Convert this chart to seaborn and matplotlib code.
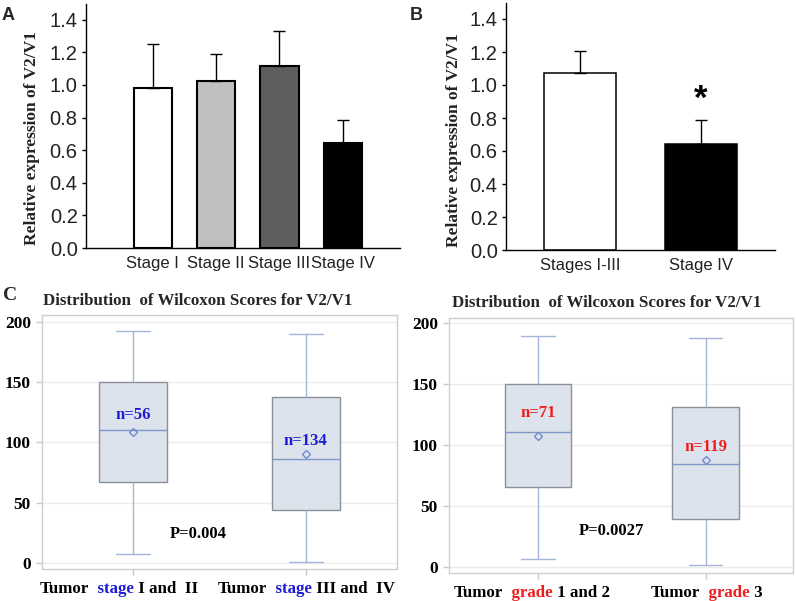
import numpy as np
import pandas as pd
import matplotlib
matplotlib.use("Agg")
import matplotlib.pyplot as plt
import seaborn as sns

# Panel A: relative expression of V2/V1 by tumour stage (mean + upper error)
stage_labels = ["Stage I", "Stage II", "Stage III", "Stage IV"]
stage_means = [0.98, 1.025, 1.115, 0.645]
stage_err = [0.27, 0.165, 0.215, 0.14]
stage_colors = ["white", "#c0c0c0", "#5e5e5e", "black"]

# Panel B: stages I-III pooled vs stage IV
group_labels = ["Stages I-III", "Stage IV"]
group_means = [1.07, 0.64]
group_err = [0.135, 0.145]
group_colors = ["white", "black"]

# Panel C (left): Wilcoxon scores by stage, five-number summaries + mean
stage_groups = ["I and II", "III and IV"]
stage_min = [8, 1]
stage_q1 = [67.5, 44]
stage_med = [110, 86]
stage_q3 = [150, 138]
stage_max = [192, 190]
stage_mean = [108.5, 90.5]
stage_n = ["n=56", "n=134"]
stage_n_y = [123, 101]

# Panel C (right): Wilcoxon scores by grade
grade_groups = ["1 and 2", "3"]
grade_min = [6, 1]
grade_q1 = [65.5, 39]
grade_med = [111, 84]
grade_q3 = [150.5, 131.5]
grade_max = [190, 188]
grade_mean = [107.5, 87.5]
grade_n = ["n=71", "n=119"]
grade_n_y = [126.5, 98.5]

SERIF = "Liberation Serif"
SANS = "Liberation Sans"
BLUE_TXT = "#1c1cd8"
RED_TXT = "#ee1c1c"

sns.set_style("ticks")
plt.rcParams["font.family"] = [SANS, "DejaVu Sans"]

W, H = 796, 601
fig = plt.figure(figsize=(W / 100, H / 100), dpi=100)


def px_axes(left, top, right, bottom):
    return fig.add_axes([left / W, 1 - bottom / H, (right - left) / W, (bottom - top) / H])


def bar_panel(ax, labels, means, err, colors, lw, xlim, ylab_xy):
    sns.barplot(x=labels, y=means, hue=labels, palette=colors, legend=False,
                edgecolor="black", linewidth=lw, width=0.6, errorbar=None, ax=ax)
    n = len(means)
    ax.errorbar(np.arange(n), means, yerr=[np.zeros(n), err], fmt="none",
                ecolor="black", elinewidth=1, capsize=4, capthick=1)
    ax.set_xlim(*xlim)
    ax.set_ylim(0, 1.5)
    ax.set_yticks(np.arange(0, 1.41, 0.2))
    ax.set_yticklabels([f"{v:.1f}" for v in np.arange(0, 1.41, 0.2)],
                       fontsize=14.5, color="#222222")
    ax.tick_params(axis="y", length=3, width=1, pad=3, color="black")
    ax.tick_params(axis="x", length=0, pad=6, labelsize=12, labelcolor="#222222")
    for s in ["top", "right"]:
        ax.spines[s].set_visible(False)
    for s in ["left", "bottom"]:
        ax.spines[s].set_color("black")
        ax.spines[s].set_linewidth(1)
    ax.set_ylabel("Relative expression of V2/V1", family=SERIF, fontweight="bold",
                  fontsize=12.5, color="#222222")
    ax.yaxis.set_label_coords(*ylab_xy)
    ax.set_xlabel("")


def five_num_frame(groups, mins, q1s, meds, q3s, maxs):
    rows = []
    for g, a, b, c, d, e in zip(groups, mins, q1s, meds, q3s, maxs):
        for v in (a, b, c, d, e):
            rows.append((g, v))
    return pd.DataFrame(rows, columns=["group", "score"])


def box_panel(ax, df, means, n_txt, n_y, n_color, p_txt, p_xy, xlim, ylim):
    ax.grid(axis="y", color="#ececec", linewidth=1)
    ax.set_axisbelow(True)
    sns.boxplot(data=df, x="group", y="score", whis=(0, 100), width=0.395,
                color="#dbe2ee", linecolor="#8c9199", linewidth=1, fliersize=0,
                whiskerprops=dict(color="#a3b5d8"), capprops=dict(color="#a3b5d8"),
                medianprops=dict(color="#7f98c9"), ax=ax)
    ax.plot(np.arange(len(means)), means, ls="none", marker="D", ms=4.5,
            mfc="none", mec="#6d8ccc", mew=1, zorder=5)
    for i, (t, y) in enumerate(zip(n_txt, n_y)):
        ax.text(i, y, t, ha="center", va="center", family=SERIF,
                fontweight="bold", fontsize=12, color=n_color)
    ax.text(p_xy[0], p_xy[1], p_txt, ha="center", va="center", family=SERIF,
            fontweight="bold", fontsize=12, color="black")
    ax.set_xlim(*xlim)
    ax.set_ylim(*ylim)
    ax.set_yticks([0, 50, 100, 150, 200])
    ax.set_yticklabels(["0", "50", "100", "150", "200"], family=SERIF,
                       fontweight="bold", fontsize=12.5, color="black")
    ax.set_xticklabels([])
    ax.tick_params(axis="both", length=4, width=1, color="#c8c8c8", pad=4)
    for s in ax.spines.values():
        s.set_visible(True)
        s.set_color("#cfcfcf")
        s.set_linewidth(1)
    ax.set_xlabel("")
    ax.set_ylabel("")


def color_label(cx, base_y, parts, size=12.2):
    r = fig.canvas.get_renderer()
    texts = [fig.text(0, 1 - base_y / H, s, color=c, fontsize=size, family=SERIF,
                      fontweight="bold", ha="left", va="baseline") for s, c in parts]
    widths = [t.get_window_extent(r).width for t in texts]
    x = cx - sum(widths) / 2
    for t, w in zip(texts, widths):
        t.set_x(x / W)
        x += w


# Panel A
axA = px_axes(86, 3.5, 400, 248)
bar_panel(axA, stage_labels, stage_means, stage_err, stage_colors, 1.5,
          (-1.05, 3.9), (-0.146, 0.45))

# Panel B
axB = px_axes(506, 2.5, 775, 250)
bar_panel(axB, group_labels, group_means, group_err, group_colors, 1.1,
          (-0.61, 1.61), (-0.164, 0.445))
axB.text(1, 0.91, "*", ha="center", va="center", fontsize=25, fontweight="bold",
         color="black")

# Panel C
axC1 = px_axes(42, 315, 397, 569)
box_panel(axC1, five_num_frame(stage_groups, stage_min, stage_q1, stage_med, stage_q3, stage_max),
          stage_mean, stage_n, stage_n_y, BLUE_TXT, "P=0.004", (0.374, 24.3),
          (-0.53, 1.53), (-4.7, 205.5))

axC2 = px_axes(449, 318, 793, 573)
box_panel(axC2, five_num_frame(grade_groups, grade_min, grade_q1, grade_med, grade_q3, grade_max),
          grade_mean, grade_n, grade_n_y, RED_TXT, "P=0.0027", (0.44, 29.6),
          (-0.531, 1.522), (-5.2, 204.4))

# panel letters and titles
fig.text(2 / W, 1 - 20 / H, "A", fontsize=13, fontweight="bold", family=SANS)
fig.text(410 / W, 1 - 20 / H, "B", fontsize=13, fontweight="bold", family=SANS)
fig.text(3 / W, 1 - 300 / H, "C", fontsize=14, fontweight="bold", family=SERIF,
         va="baseline")
fig.text(198 / W, 1 - 305 / H, "Distribution  of Wilcoxon Scores for V2/V1",
         ha="center", va="baseline", fontsize=12.2, fontweight="bold", family=SERIF)
fig.text(607 / W, 1 - 307 / H, "Distribution  of Wilcoxon Scores for V2/V1",
         ha="center", va="baseline", fontsize=12.2, fontweight="bold", family=SERIF)

# two-colour category labels under the box plots
color_label(119, 593, [("Tumor", "black"), ("  stage", BLUE_TXT), (" I and  II", "black")])
color_label(306.5, 593, [("Tumor", "black"), ("  stage", BLUE_TXT), (" III and  IV", "black")])
color_label(532, 597, [("Tumor", "black"), ("  grade", RED_TXT), (" 1 and 2", "black")])
color_label(706.5, 597, [("Tumor", "black"), ("  grade", RED_TXT), (" 3", "black")])

fig.savefig("out.png", dpi=100)
